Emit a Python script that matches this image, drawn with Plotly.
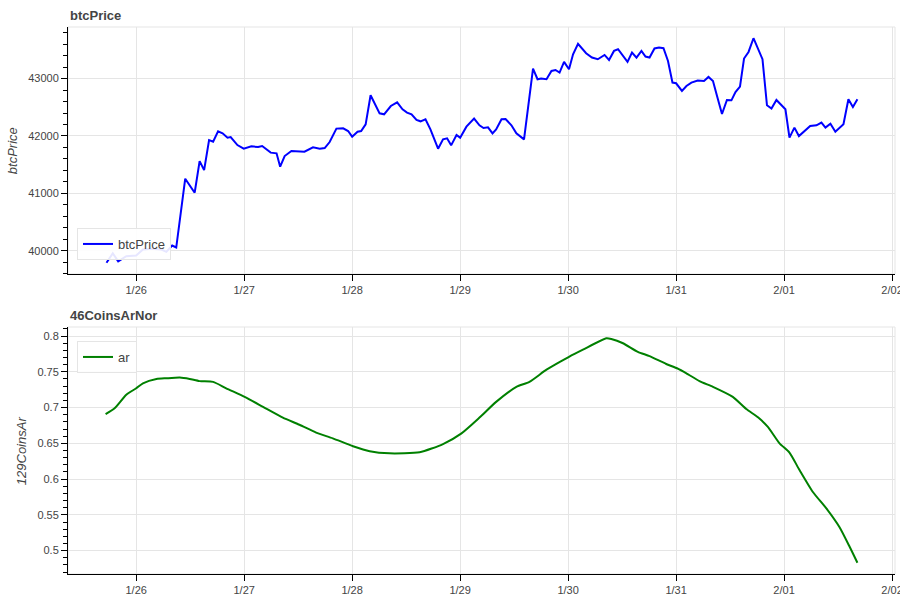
import pandas as pd
import plotly.graph_objects as go

# ---------------- data ----------------
start_time = "2024-01-25 17:00"

btc_hours = [0.4, 1.8, 3.0, 4.8, 7.0, 8.5, 10.4, 12.6, 13.7, 15.0, 15.9, 17.9, 20.0, 21.1, 22.1,
             23.2, 24.1, 25.2, 26.2, 27.3, 28.0, 29.5, 30.9, 32.6, 34.1, 35.0, 36.9, 38.2, 39.0,
             40.0, 41.5, 43.0, 44.4, 46.3, 47.8, 48.9, 50.0, 51.5, 53.0, 54.1, 55.0, 56.2, 57.0,
             58.0, 59.1, 61.1, 62.1, 63.6, 65.0, 66.2, 67.2, 68.2, 69.3, 70.2, 71.3, 72.4, 74.1,
             75.2, 76.1, 77.0, 78.2, 79.0, 80.4, 82.1, 83.3, 84.2, 85.2, 86.2, 87.0, 88.2, 89.1,
             90.4, 91.5, 93.2, 95.2, 96.2, 97.0, 98.2, 99.3, 100.2, 101.1, 102.1, 103.2, 104.1,
             105.2, 107.0, 108.3, 109.6, 111.1, 112.1, 113.2, 114.1, 115.2, 116.2, 117.2, 118.2,
             119.3, 120.2, 121.1, 122.2, 123.2, 124.2, 125.2, 126.2, 127.0, 128.3, 129.3, 130.4,
             131.8, 133.2, 134.2, 135.2, 136.1, 137.2, 138.3, 139.3, 140.2, 141.2, 142.1, 143.1,
             144.2, 145.2, 146.2, 147.2, 148.2, 149.3, 150.4, 151.3, 152.2, 153.3, 154.3, 155.6,
             156.8, 158.2, 159.3, 160.2, 161.3, 162.4, 164.2, 165.3, 166.3, 167.3]
btc_price = [39790, 39955, 39815, 39905, 39917, 40021, 40035, 40021, 39980, 40091, 40056, 41255,
             41011, 41562, 41405, 41929, 41900, 42080, 42045, 41970, 41981, 41841, 41778, 41819,
             41806, 41824, 41709, 41697, 41464, 41650, 41737, 41737, 41726, 41801, 41778, 41789,
             41894, 42128, 42133, 42086, 41988, 42075, 42086, 42203, 42709, 42394, 42377, 42522,
             42586, 42464, 42407, 42377, 42278, 42255, 42290, 42115, 41778, 41941, 41958, 41836,
             42016, 41970, 42162, 42302, 42185, 42138, 42150, 42045, 42115, 42290, 42295, 42185,
             42045, 41941, 43175, 42988, 43000, 42988, 43133, 43150, 43105, 43290, 43162, 43424,
             43604, 43441, 43366, 43337, 43412, 43325, 43482, 43511, 43384, 43290, 43454, 43366,
             43482, 43384, 43366, 43524, 43541, 43529, 43307, 42930, 42918, 42784, 42871, 42930,
             42965, 42958, 43028, 42958, 42696, 42382, 42627, 42621, 42766, 42860, 43349, 43464,
             43703, 43524, 43337, 42534, 42477, 42627, 42546, 42464, 41970, 42145, 41998, 42098,
             42173, 42185, 42232, 42145, 42215, 42075, 42203, 42639, 42505, 42639]

ar_hours = [0.2, 2.2, 4.8, 7.0, 8.5, 11.5, 13.7, 16.7, 18.9, 21.1, 24.1, 27.0, 31.1, 35.2, 39.6,
            43.3, 47.0, 50.7, 55.2, 58.9, 63.3, 70.0, 75.2, 79.3, 83.3, 87.0, 91.5, 94.4, 98.2,
            103.2, 106.3, 111.5, 112.6, 115.2, 118.5, 121.1, 124.8, 127.2, 129.3, 132.2, 135.2,
            139.6, 142.6, 145.2, 147.4, 150.0, 152.2, 154.4, 157.4, 160.4, 163.3, 165.6, 167.3]
ar_values = [0.691, 0.699, 0.718, 0.727, 0.734, 0.740, 0.741, 0.742, 0.740, 0.737, 0.736, 0.727,
             0.715, 0.701, 0.686, 0.676, 0.665, 0.657, 0.646, 0.639, 0.636, 0.6375, 0.649, 0.664,
             0.686, 0.708, 0.729, 0.736, 0.753, 0.771, 0.781, 0.797, 0.796, 0.790, 0.778, 0.772,
             0.761, 0.755, 0.748, 0.737, 0.729, 0.715, 0.698, 0.6865, 0.673, 0.650, 0.637, 0.613,
             0.582, 0.559, 0.533, 0.505, 0.483]

top_title = "btcPrice"
bottom_title = "46CoinsArNor"
top_ylabel = "btcPrice"
bottom_ylabel = "129CoinsAr"
top_legend = "btcPrice"
bottom_legend = "ar"

# ---------------- build ----------------
t0 = pd.Timestamp(start_time)
btc_t = [t0 + pd.Timedelta(hours=h) for h in btc_hours]
ar_t = [t0 + pd.Timedelta(hours=h) for h in ar_hours]


def padded(lo, hi, frac=0.05):
    span = hi - lo
    return lo - span * frac, hi + span * frac


all_t = btc_t + ar_t
tmin, tmax = min(all_t), max(all_t)
tspan = tmax - tmin
xr = [tmin - tspan * 0.05, tmax + tspan * 0.05]
y1r = list(padded(min(btc_price), max(btc_price)))
y2r = list(padded(min(ar_values), max(ar_values)))

FONT = "Liberation Sans, Arial, Helvetica, sans-serif"
TXT = "#444444"
GRID = "#e5e5e5"

fig = go.Figure()
fig.add_trace(go.Scatter(x=btc_t, y=btc_price, mode="lines", name=top_legend,
                         line=dict(color="#0000ff", width=2), xaxis="x", yaxis="y",
                         legend="legend"))
fig.add_trace(go.Scatter(x=ar_t, y=ar_values, mode="lines", name=bottom_legend,
                         line=dict(color="#008000", width=2, shape="spline", smoothing=0.6),
                         xaxis="x2", yaxis="y2", legend="legend2"))

H = 600 - 27 - 26
top_dom = [(600 - 274 - 26) / H, 1.0]
bot_dom = [0.0, (600 - 327 - 26) / H]

xcommon = dict(type="date", range=xr, tickformat="%-m/%d", dtick=86400000,
               tick0="2024-01-26", showgrid=True, gridcolor=GRID, gridwidth=1,
               showline=True, linecolor="black", linewidth=1, ticks="outside",
               ticklen=6, tickcolor="black", tickfont=dict(family=FONT, size=11, color=TXT),
               ticklabeloverflow="allow",
               zeroline=False, automargin=False, fixedrange=True)
fig.update_layout(
    xaxis=dict(domain=[0, 1], anchor="y", **xcommon),
    xaxis2=dict(domain=[0, 1], anchor="y2", **xcommon),
    yaxis=dict(domain=top_dom, anchor="x", range=y1r, dtick=1000, tick0=0, tickformat="d",
               showgrid=True, gridcolor=GRID, showline=True, linecolor="black", linewidth=1,
               ticks="outside", ticklen=6, tickcolor="black",
               minor=dict(dtick=200, ticks="outside", ticklen=4, tickcolor="black", showgrid=False),
               tickfont=dict(family=FONT, size=11, color=TXT), zeroline=False, automargin=False),
    yaxis2=dict(domain=bot_dom, anchor="x2", range=y2r, dtick=0.05, tick0=0,
                showgrid=True, gridcolor=GRID, showline=True, linecolor="black", linewidth=1,
                ticks="outside", ticklen=6, tickcolor="black",
                minor=dict(dtick=0.01, ticks="outside", ticklen=4, tickcolor="black", showgrid=False),
                tickfont=dict(family=FONT, size=11, color=TXT), zeroline=False, automargin=False),
    width=900, height=600, template="none",
    margin=dict(l=68, r=5, t=27, b=26),
    paper_bgcolor="white", plot_bgcolor="white",
    font=dict(family=FONT, color=TXT),
    legend=dict(x=(77 - 68) / 827, y=(574 - 244) / H, xanchor="left", yanchor="middle",
                bgcolor="rgba(255,255,255,0.9)", bordercolor=GRID, borderwidth=1,
                font=dict(family=FONT, size=13, color=TXT), itemwidth=30),
    legend2=dict(x=(77 - 68) / 827, y=(574 - 357) / H, xanchor="left", yanchor="middle",
                 bgcolor="rgba(255,255,255,0.9)", bordercolor=GRID, borderwidth=1,
                 font=dict(family=FONT, size=13, color=TXT), itemwidth=30),
    showlegend=True,
)

# light outline around each plot frame (like bokeh outline)
for xd, yd in [("x domain", "y domain"), ("x2 domain", "y2 domain")]:
    fig.add_shape(type="rect", xref=xd, yref=yd, x0=0, x1=1, y0=0, y1=1,
                  line=dict(color=GRID, width=1), layer="below")

# titles
fig.add_annotation(text="<b>%s</b>" % top_title, xref="paper", yref="paper", x=0,
                   y=(574 - 15.5) / H, xanchor="left", yanchor="middle", showarrow=False,
                   font=dict(family=FONT, size=13, color=TXT))
fig.add_annotation(text="<b>%s</b>" % bottom_title, xref="paper", yref="paper", x=0,
                   y=(574 - 315) / H, xanchor="left", yanchor="middle", showarrow=False,
                   font=dict(family=FONT, size=13, color=TXT))
# y axis labels
fig.add_annotation(text="<i>%s</i>" % top_ylabel, xref="paper", yref="paper",
                   x=(12.7 - 68) / 827, y=(574 - 150.5) / H, xanchor="center", yanchor="middle",
                   textangle=-90, showarrow=False, font=dict(family=FONT, size=13, color=TXT))
fig.add_annotation(text="<i>%s</i>" % bottom_ylabel, xref="paper", yref="paper",
                   x=(21.7 - 68) / 827, y=(574 - 450.5) / H, xanchor="center", yanchor="middle",
                   textangle=-90, showarrow=False, font=dict(family=FONT, size=13, color=TXT))

fig.write_html("out.html", config={"displayModeBar": False, "staticPlot": True},
               post_script="document.body.style.margin='0';document.body.style.padding='0';")
